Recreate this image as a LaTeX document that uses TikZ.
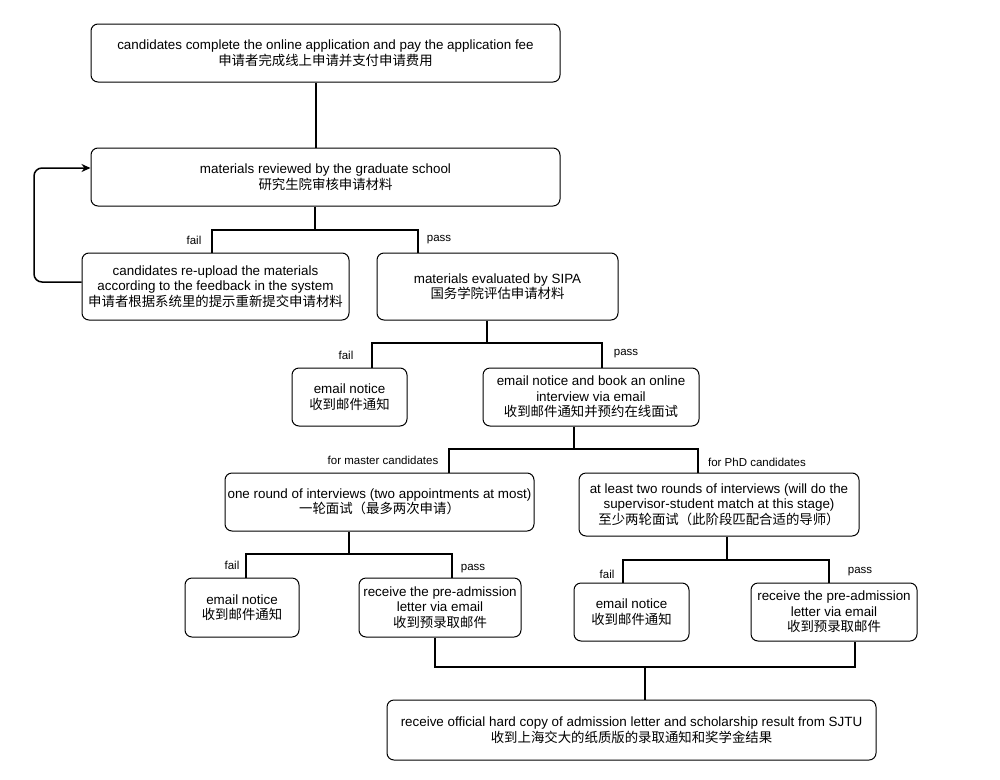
\documentclass[tikz,border=0pt]{standalone}
\usepackage{fontspec}
\setmainfont{Liberation Sans}
\newfontfamily\cjk{Noto Sans CJK SC}
\usetikzlibrary{arrows.meta}
\begin{document}
\begin{tikzpicture}[x=1pt,y=-1pt,
  box/.style={draw, line width=1pt, rounded corners=7pt, align=center, inner sep=0pt,
    font=\fontsize{13.4}{15.5}\selectfont},
  conn/.style={draw, line width=1.5pt},
  lbl/.style={font=\fontsize{11.5}{13}\selectfont, inner sep=0pt}]
\useasboundingbox[fill=white] (0,0) rectangle (1000,779);

\node[box, minimum width=469pt, minimum height=58pt] (b1) at (325.5,53)
  {candidates complete the online application and pay the application fee\\\cjk 申请者完成线上申请并支付申请费用};
\node[box, minimum width=469pt, minimum height=58pt] (b2) at (325.5,177)
  {materials reviewed by the graduate school\\\cjk 研究生院审核申请材料};
\node[box, minimum width=267pt, minimum height=67pt] (b3) at (215.5,286.5)
  {candidates re-upload the materials\\according to the feedback in the system\\\cjk 申请者根据系统里的提示重新提交申请材料};
\node[box, minimum width=241pt, minimum height=67pt] (b4) at (497.5,286.5)
  {materials evaluated by SIPA\\\cjk 国务学院评估申请材料};
\node[box, minimum width=115pt, minimum height=58pt] (b5) at (349.5,397)
  {email notice\\\cjk 收到邮件通知};
\node[box, minimum width=216pt, minimum height=58pt] (b6) at (591,397)
  {email notice and book an online\\interview via email\\\cjk 收到邮件通知并预约在线面试};
\node[box, minimum width=309pt, minimum height=58pt] (b7) at (379.5,502)
  {one round of interviews (two appointments at most)\\\cjk 一轮面试（最多两次申请）};
\node[box, minimum width=280pt, minimum height=63pt] (b8) at (719,504.5)
  {at least two rounds of interviews (will do the\\supervisor-student match at this stage)\\\cjk 至少两轮面试（此阶段匹配合适的导师）};
\node[box, minimum width=114pt, minimum height=59pt] (b9) at (242,607.5)
  {email notice\\\cjk 收到邮件通知};
\node[box, minimum width=162pt, minimum height=59pt] (b10) at (440,607.5)
  {receive the pre-admission\\letter via email\\\cjk 收到预录取邮件};
\node[box, minimum width=115pt, minimum height=58pt] (b11) at (631.5,612)
  {email notice\\\cjk 收到邮件通知};
\node[box, minimum width=166pt, minimum height=58pt] (b12) at (834,612)
  {receive the pre-admission\\letter via email\\\cjk 收到预录取邮件};
\node[box, minimum width=489pt, minimum height=60pt] (b13) at (631.5,730)
  {receive official hard copy of admission letter and scholarship result from SJTU\\\cjk 收到上海交大的纸质版的录取通知和奖学金结果};

% connectors
\draw[conn] (b1.south -| 316,0) -- (b2.north -| 316,0);

\coordinate (j1) at (315,230);
\draw[conn] (b2.south -| 315,0) -- (j1);
\draw[conn] (b3.north -| 212,0) |- (j1) -| (b4.north -| 418,0);

\draw[line width=1.5pt, rounded corners=8pt, -{Stealth[length=9pt,width=8pt]}]
  (b3.west |- 0,282) -- (34,282) -- (34,168) -- (b2.west |- 0,168);

\coordinate (j2) at (487,343);
\draw[conn] (b4.south -| 487,0) -- (j2);
\draw[conn] (b5.north -| 372,0) |- (j2) -| (b6.north -| 602,0);

\coordinate (j3) at (574,449);
\draw[conn] (b6.south -| 574,0) -- (j3);
\draw[conn] (b7.north -| 449,0) |- (j3) -| (b8.north -| 698,0);

\coordinate (j4) at (349,554);
\draw[conn] (b7.south -| 349,0) -- (j4);
\draw[conn] (b9.north -| 246,0) |- (j4) -| (b10.north -| 452,0);

\coordinate (j5) at (727,560);
\draw[conn] (b8.south -| 727,0) -- (j5);
\draw[conn] (b11.north -| 623,0) |- (j5) -| (b12.north -| 829,0);

\coordinate (j6) at (645,667);
\draw[conn] (b10.south -| 435,0) |- (j6) -| (b12.south -| 855,0);
\draw[conn] (j6) -- (b13.north -| 645,0);

% labels
\node[lbl] (l1) at (194,240) {fail};
\node[lbl] (l2) at (439,240) {pass};
\node[lbl] (l3) at (346,355) {fail};
\node[lbl] (l4) at (626,354) {pass};
\node[lbl] (l5) at (383,460) {for master candidates};
\node[lbl] (l6) at (757,462) {for PhD candidates};
\node[lbl] (l7) at (232,565) {fail};
\node[lbl] (l8) at (473,569) {pass};
\node[lbl] (l9) at (607,574) {fail};
\node[lbl] (l10) at (860,572) {pass};
\end{tikzpicture}
\end{document}
